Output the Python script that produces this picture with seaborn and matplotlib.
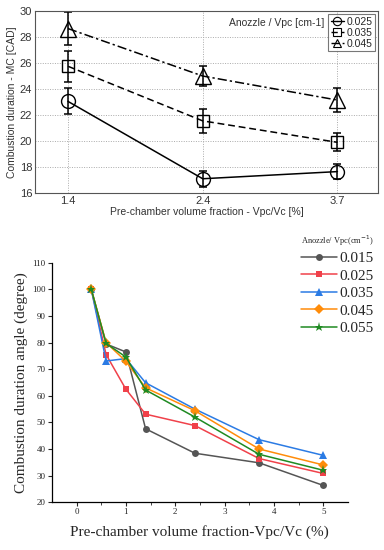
import numpy as np
import pandas as pd
import matplotlib
matplotlib.use("Agg")
import matplotlib.pyplot as plt
import seaborn as sns
from matplotlib.lines import Line2D

# ── top panel: combustion duration with error bars ──────────────────────────
top_x_labels = ["1.4", "2.4", "3.7"]
top_series = ["0.025", "0.035", "0.045"]
top_025 = [23.05, 17.1, 17.65]
top_035 = [25.75, 21.55, 19.9]
top_045 = [28.65, 25.0, 23.15]
err_025 = [1.0, 0.6, 0.55]
err_035 = [1.2, 0.9, 0.7]
err_045 = [1.25, 0.75, 0.9]

# ── bottom panel: combustion duration angle ────────────────────────────────
bot_x = [0.3, 0.6, 1.0, 1.4, 2.4, 3.7, 5.0]
bot_series = ["0.015", "0.025", "0.035", "0.045", "0.055"]
bot_015 = [100, 79.5, 76.5, 47.6, 38.4, 34.8, 26.3]
bot_025 = [100, 75.5, 62.5, 53.1, 48.8, 36.4, 30.8]
bot_035 = [100, 73.1, 74.0, 64.9, 55.0, 43.5, 37.6]
bot_045 = [100, 80.0, 73.0, 63.0, 54.4, 40.0, 34.0]
bot_055 = [100, 79.7, 74.6, 62.2, 52.0, 38.0, 32.0]

sns.set_theme(style="white")
plt.rcParams["font.family"] = ["Liberation Sans", "DejaVu Sans"]
fig = plt.figure(figsize=(3.84, 5.5), dpi=100)

# ---------------------------------------------------------------- top
ax1 = fig.add_axes([0.091, 0.649, 0.893, 0.331])
pos = np.arange(len(top_x_labels))
df_top = pd.DataFrame({
    "pos": np.tile(pos, 3),
    "val": top_025 + top_035 + top_045,
    "err": err_025 + err_035 + err_045,
    "serie": np.repeat(top_series, 3),
})
styles = {"0.025": ("-", "o", 10), "0.035": ((0, (4.5, 2.5)), "s", 9),
          "0.045": ((0, (6, 2, 1.5, 2)), "^", 11)}
for s in top_series:
    sub = df_top[df_top["serie"] == s]
    ls, mk, ms = styles[s]
    sns.lineplot(data=sub, x="pos", y="val", ax=ax1, color="black", lw=1.1,
                 linestyle=ls, legend=False)
    ax1.errorbar(sub["pos"], sub["val"], yerr=sub["err"], fmt="none",
                 ecolor="black", elinewidth=1.1, capsize=3, capthick=1.1)
    ax1.plot(sub["pos"], sub["val"], ls="none", marker=mk, ms=ms,
             mfc="none", mec="black", mew=1.0)
ax1.set_xlim(-0.245, 2.3)
ax1.set_ylim(16, 30)
ax1.set_xticks(pos)
ax1.set_xticklabels(top_x_labels)
ax1.set_yticks(range(16, 31, 2))
ax1.grid(True, ls=(0, (1, 1.5)), color="#aaaaaa", lw=0.7)
for sp in ax1.spines.values():
    sp.set_color("#555555"); sp.set_linewidth(0.8)
ax1.tick_params(labelsize=8, colors="#333333", length=0, pad=2)
ax1.set_xlabel("Pre-chamber volume fraction - Vpc/Vc [%]", fontsize=7.5,
               color="#333333", labelpad=1)
ax1.set_ylabel("Combustion duration - MC [CAD]", fontsize=7.5, color="#333333",
               labelpad=2)
handles = [Line2D([], [], color="black", ls=styles[s][0], lw=1.0,
                  marker=styles[s][1], ms=6, mfc="none", mec="black", mew=0.8)
           for s in top_series]
leg = ax1.legend(handles, top_series, loc="upper right", fontsize=7.5,
                 frameon=True, fancybox=False, edgecolor="#555555",
                 handlelength=1.3, handletextpad=0.2, borderpad=0.25,
                 labelspacing=0.1, borderaxespad=0.3)
leg.get_frame().set_linewidth(0.8)
ax1.text(0.843, 0.935, "Anozzle / Vpc [cm-1]", transform=ax1.transAxes,
         ha="right", va="center", fontsize=7.5, color="#333333")

# ---------------------------------------------------------------- bottom
ax2 = fig.add_axes([0.135, 0.087, 0.771, 0.435])
df_bot = pd.DataFrame({
    "x": bot_x * 5,
    "y": bot_015 + bot_025 + bot_035 + bot_045 + bot_055,
    "serie": np.repeat(bot_series, len(bot_x)),
})
palette = {"0.015": "#555555", "0.025": "#f0414a", "0.035": "#2b7be4",
           "0.045": "#ff8c0a", "0.055": "#1f8a22"}
markers = {"0.015": "o", "0.025": "s", "0.035": "^", "0.045": "D", "0.055": "*"}
msizes = {"0.015": 5, "0.025": 5, "0.035": 5.5, "0.045": 5, "0.055": 6.5}
for s in bot_series:
    sub = df_bot[df_bot["serie"] == s]
    sns.lineplot(data=sub, x="x", y="y", ax=ax2, color=palette[s], lw=1.1,
                 marker=markers[s], markersize=msizes[s], markeredgewidth=0,
                 label=s)
ax2.set_xlim(-0.5, 5.5)
ax2.set_ylim(20, 110)
ax2.set_xticks(range(0, 6))
ax2.set_yticks(range(20, 111, 10))
ax2.set_xticks([0.5, 1.5, 2.5, 3.5, 4.5], minor=True)
for sp in ["top", "right"]:
    ax2.spines[sp].set_visible(False)
for sp in ["left", "bottom"]:
    ax2.spines[sp].set_color("black"); ax2.spines[sp].set_linewidth(0.9)
ax2.tick_params(which="major", direction="out", length=3, width=0.8,
                labelsize=6.5, bottom=True, left=True, pad=1.5)
ax2.tick_params(which="minor", direction="out", length=1.8, width=0.6,
                bottom=True)
for lab in ax2.get_xticklabels() + ax2.get_yticklabels():
    lab.set_family("Liberation Serif")
ax2.set_xlabel("Pre-chamber volume fraction-Vpc/Vc (%)", fontsize=11,
               family="Liberation Serif", labelpad=6)
ax2.set_ylabel("Combustion duration angle (degree)", fontsize=11,
               family="Liberation Serif", labelpad=3)
leg2 = ax2.legend(loc="upper left", bbox_to_anchor=(0.82, 1.15), frameon=False,
                  prop={"family": "Liberation Serif", "size": 11},
                  title="Anozzle/ Vpc(cm$^{-1}$)", handlelength=2.4,
                  handletextpad=0.15, labelspacing=0.25, borderaxespad=0)
leg2.get_title().set_fontproperties({"family": "Liberation Serif", "size": 6})
for t in leg2.get_lines():
    t.set_linewidth(1.1)

fig.savefig("out.png", dpi=100)
